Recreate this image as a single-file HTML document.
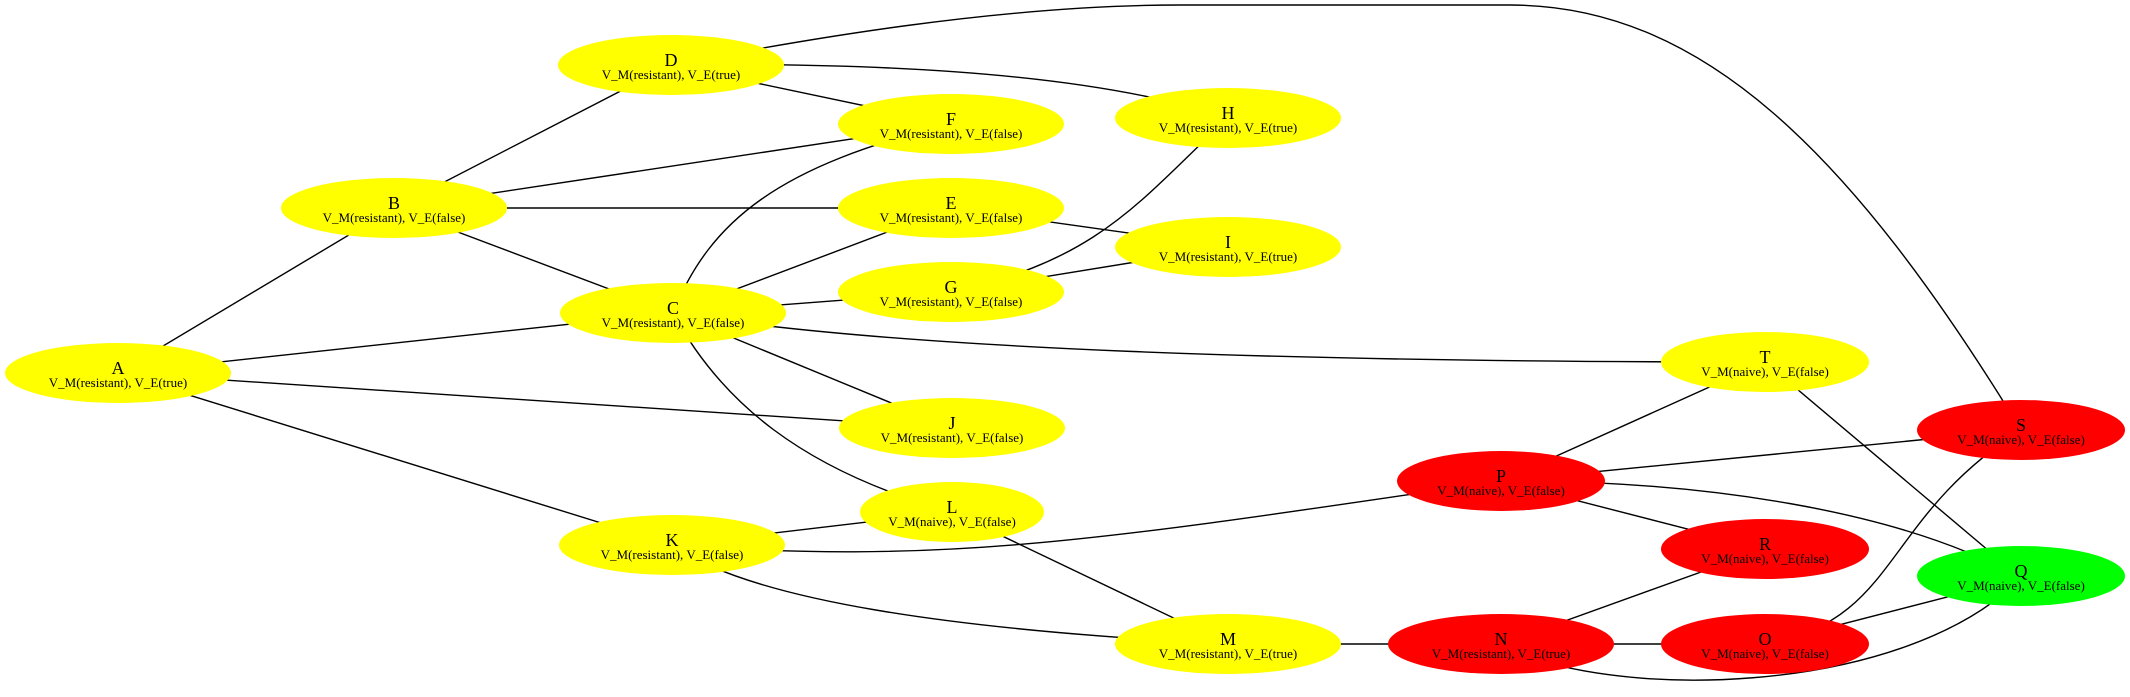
<!DOCTYPE html>
<html><head><meta charset="utf-8"><style>
html,body{margin:0;padding:0;background:#fff;}
svg{display:block;}
text{font-family:"Liberation Serif",serif;fill:#000;text-anchor:middle;}
.l{font-size:18px;}
.s{font-size:13px;}
</style></head><body>
<svg width="2130" height="697" viewBox="0 0 2130 697" xmlns="http://www.w3.org/2000/svg">
<g stroke="#000" stroke-width="1.4" fill="none">
<line x1="118" y1="373" x2="394" y2="208"/>
<line x1="118" y1="373" x2="673" y2="313"/>
<line x1="118" y1="373" x2="952" y2="428"/>
<line x1="118" y1="373" x2="672" y2="545"/>
<line x1="394" y1="208" x2="671" y2="65"/>
<line x1="394" y1="208" x2="951" y2="124"/>
<line x1="394" y1="208" x2="951" y2="208"/>
<line x1="394" y1="208" x2="673" y2="313"/>
<line x1="671" y1="65" x2="951" y2="124"/>
<path d="M671,65 C900,62 1100,75 1228,118"/>
<path d="M671,65 C800,40 1000,5 1180,5 L1510,5 C1700,5 1850,150 2021,430"/>
<path d="M673,313 C710,220 780,165 951,124"/>
<line x1="673" y1="313" x2="951" y2="208"/>
<line x1="673" y1="313" x2="951" y2="292"/>
<path d="M673,313 C900,350 1300,362 1765,362"/>
<line x1="673" y1="313" x2="952" y2="428"/>
<path d="M673,313 C720,400 800,470 952,512"/>
<line x1="951" y1="208" x2="1228" y2="247"/>
<line x1="951" y1="292" x2="1228" y2="247"/>
<path d="M951,292 C1100,260 1140,200 1228,118"/>
<line x1="672" y1="545" x2="952" y2="512"/>
<path d="M672,545 C950,565 1100,540 1501,481"/>
<path d="M672,545 C750,600 950,630 1228,644"/>
<line x1="952" y1="512" x2="1228" y2="644"/>
<line x1="1228" y1="644" x2="1501" y2="644"/>
<line x1="1501" y1="644" x2="1765" y2="644"/>
<line x1="1501" y1="644" x2="1765" y2="549"/>
<path d="M1501,644 C1600,700 1900,700 2021,578"/>
<line x1="1501" y1="481" x2="1765" y2="362"/>
<line x1="1501" y1="481" x2="2021" y2="430"/>
<line x1="1501" y1="481" x2="1765" y2="549"/>
<path d="M1501,481 C1700,480 1900,510 2021,578"/>
<line x1="1765" y1="362" x2="2021" y2="578"/>
<line x1="1765" y1="644" x2="2021" y2="578"/>
<path d="M1765,644 C1900,620 1880,520 2021,430"/>
</g>
<g>
<ellipse cx="118" cy="373" rx="113" ry="30" fill="#ffff00"/>
<ellipse cx="394" cy="208" rx="113" ry="30" fill="#ffff00"/>
<ellipse cx="673" cy="313" rx="113" ry="30" fill="#ffff00"/>
<ellipse cx="671" cy="65" rx="113" ry="30" fill="#ffff00"/>
<ellipse cx="951" cy="124" rx="113" ry="30" fill="#ffff00"/>
<ellipse cx="951" cy="208" rx="113" ry="30" fill="#ffff00"/>
<ellipse cx="951" cy="292" rx="113" ry="30" fill="#ffff00"/>
<ellipse cx="1228" cy="118" rx="113" ry="30" fill="#ffff00"/>
<ellipse cx="1228" cy="247" rx="113" ry="30" fill="#ffff00"/>
<ellipse cx="952" cy="428" rx="113" ry="30" fill="#ffff00"/>
<ellipse cx="952" cy="512" rx="92" ry="30" fill="#ffff00"/>
<ellipse cx="672" cy="545" rx="113" ry="30" fill="#ffff00"/>
<ellipse cx="1228" cy="644" rx="113" ry="30" fill="#ffff00"/>
<ellipse cx="1765" cy="362" rx="104" ry="30" fill="#ffff00"/>
<ellipse cx="1501" cy="644" rx="113" ry="30" fill="#ff0000"/>
<ellipse cx="1501" cy="481" rx="104" ry="30" fill="#ff0000"/>
<ellipse cx="1765" cy="549" rx="104" ry="30" fill="#ff0000"/>
<ellipse cx="1765" cy="644" rx="104" ry="30" fill="#ff0000"/>
<ellipse cx="2021" cy="430" rx="104" ry="30" fill="#ff0000"/>
<ellipse cx="2021" cy="576" rx="104" ry="30" fill="#00ff00"/>
</g>
<g>
<text class="l" x="118" y="374">A</text><text class="s" x="118" y="387">V_M(resistant), V_E(true)</text>
<text class="l" x="394" y="209">B</text><text class="s" x="394" y="222">V_M(resistant), V_E(false)</text>
<text class="l" x="673" y="314">C</text><text class="s" x="673" y="327">V_M(resistant), V_E(false)</text>
<text class="l" x="671" y="66">D</text><text class="s" x="671" y="79">V_M(resistant), V_E(true)</text>
<text class="l" x="951" y="125">F</text><text class="s" x="951" y="138">V_M(resistant), V_E(false)</text>
<text class="l" x="951" y="209">E</text><text class="s" x="951" y="222">V_M(resistant), V_E(false)</text>
<text class="l" x="951" y="293">G</text><text class="s" x="951" y="306">V_M(resistant), V_E(false)</text>
<text class="l" x="1228" y="119">H</text><text class="s" x="1228" y="132">V_M(resistant), V_E(true)</text>
<text class="l" x="1228" y="248">I</text><text class="s" x="1228" y="261">V_M(resistant), V_E(true)</text>
<text class="l" x="952" y="429">J</text><text class="s" x="952" y="442">V_M(resistant), V_E(false)</text>
<text class="l" x="952" y="513">L</text><text class="s" x="952" y="526">V_M(naive), V_E(false)</text>
<text class="l" x="672" y="546">K</text><text class="s" x="672" y="559">V_M(resistant), V_E(false)</text>
<text class="l" x="1228" y="645">M</text><text class="s" x="1228" y="658">V_M(resistant), V_E(true)</text>
<text class="l" x="1765" y="363">T</text><text class="s" x="1765" y="376">V_M(naive), V_E(false)</text>
<text class="l" x="1501" y="645">N</text><text class="s" x="1501" y="658">V_M(resistant), V_E(true)</text>
<text class="l" x="1501" y="482">P</text><text class="s" x="1501" y="495">V_M(naive), V_E(false)</text>
<text class="l" x="1765" y="550">R</text><text class="s" x="1765" y="563">V_M(naive), V_E(false)</text>
<text class="l" x="1765" y="645">O</text><text class="s" x="1765" y="658">V_M(naive), V_E(false)</text>
<text class="l" x="2021" y="431">S</text><text class="s" x="2021" y="444">V_M(naive), V_E(false)</text>
<text class="l" x="2021" y="577">Q</text><text class="s" x="2021" y="590">V_M(naive), V_E(false)</text>
</g>
</svg>
</body></html>
